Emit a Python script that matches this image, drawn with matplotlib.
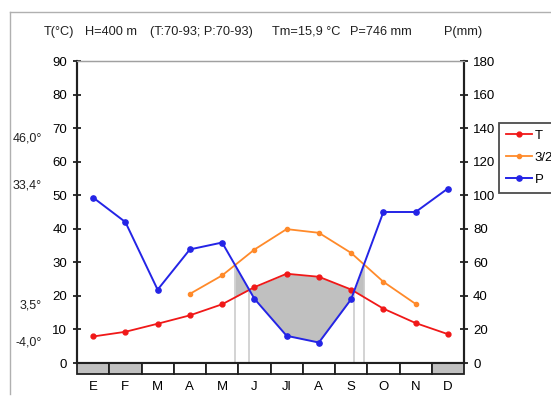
import numpy as np
import matplotlib
matplotlib.use("Agg")
import matplotlib.pyplot as plt
from matplotlib.patches import Rectangle
from matplotlib.lines import Line2D
from matplotlib import font_manager

# ---------------- data ----------------
months = ["E", "F", "M", "A", "M", "J", "Jl", "A", "S", "O", "N", "D"]
T = [7.9, 9.3, 11.7, 14.2, 17.5, 22.6, 26.6, 25.7, 21.9, 16.2, 11.9, 8.6]
T32_months = [3, 4, 5, 6, 7, 8, 9, 10]
T32 = [20.6, 26.1, 33.8, 39.9, 38.8, 32.8, 24.2, 17.6]
P = [98.6, 84.0, 43.7, 67.7, 71.8, 38.3, 16.2, 12.2, 38.0, 90.0, 90.0, 104.0]
frost = [1, 1, 0, 0, 0, 0, 0, 0, 0, 0, 0, 1]
left_ticks = list(range(0, 91, 10))
right_ticks = list(range(0, 181, 20))
side_notes = ["46,0°", "33,4°", "3,5°", "-4,0°"]
side_note_ypos = [67.0, 53.0, 17.0, 6.0]
header = ["T(°C)", "H=400 m", "(T:70-93; P:70-93)", "Tm=15,9 °C", "P=746 mm", "P(mm)"]

# ---------------- style ----------------
names = {f.name for f in font_manager.fontManager.ttflist}
fam = ["Liberation Sans Narrow", "Liberation Sans", "DejaVu Sans"]
fam = [f for f in fam if f in names] or ["DejaVu Sans"]
plt.rcParams["font.family"] = fam
FS = 9.5
RED = "#f01818"
ORANGE = "#ff8a2a"
BLUE = "#2424e6"
GREY = "#c0c0c0"
DARK = "#202020"

W, H = 551, 396
fig = plt.figure(figsize=(W / 100, H / 100), dpi=100)

def fx(px):
    return px / W

def fy(py):
    return 1 - py / H

ax_l, ax_r, ax_t, ax_b = 77, 464, 61, 363
ax = fig.add_axes([fx(ax_l), fy(ax_b), fx(ax_r - ax_l), (ax_b - ax_t) / H])
ax2 = ax.twinx()

x = np.arange(12)
ax.set_xlim(-0.5, 11.5)
ax.set_ylim(0, 90)
ax2.set_ylim(0, 180)

# fill between P and T where 3/2 T is above P
xf = np.linspace(0, 11, 2201)
Tf = np.interp(xf, x, T)
Pf = np.interp(xf, x, np.array(P) / 2.0)
Of = np.interp(xf, T32_months, T32, left=np.nan, right=np.nan)
mask = np.nan_to_num(Of, nan=-1) >= Pf
ax.fill_between(xf, Tf, Pf, where=mask, color=GREY, lw=0, zorder=1)

# vertical lines at crossings
def crossings(a, b):
    d = a - b
    out = []
    for i in range(len(d) - 1):
        if np.isfinite(d[i]) and np.isfinite(d[i + 1]) and d[i] * d[i + 1] < 0:
            t = d[i] / (d[i] - d[i + 1])
            xc = xf[i] + t * (xf[i + 1] - xf[i])
            yc = a[i] + t * (a[i + 1] - a[i])
            out.append((xc, yc))
    return out

for xc, yc in crossings(Of, Pf) + crossings(Tf, Pf):
    ax.plot([xc, xc], [0, yc], color="#c8c8c8", lw=1.1, zorder=1.5)

lT, = ax.plot(x, T, color=RED, lw=1.3, marker="o", ms=3.5, zorder=3)
lO, = ax.plot(T32_months, T32, color=ORANGE, lw=1.3, marker="o", ms=3.0, zorder=3)
lP, = ax2.plot(x, P, color=BLUE, lw=1.4, marker="o", ms=3.8, zorder=3)

# spines
for a in (ax, ax2):
    a.spines["top"].set_color("#a0a0a0")
    a.spines["top"].set_linewidth(0.9)
    for s in ("left", "right", "bottom"):
        a.spines[s].set_color(DARK)
        a.spines[s].set_linewidth(1.5)

ax.set_yticks(left_ticks)
ax.set_yticklabels([str(v) for v in left_ticks], fontsize=FS)
ax2.set_yticks(right_ticks)
ax2.set_yticklabels([str(v) for v in right_ticks], fontsize=FS)
ax.tick_params(axis="y", direction="inout", length=6, width=1.3, color=DARK, pad=4)
ax2.tick_params(axis="y", direction="inout", length=6, width=1.3, color=DARK, pad=3.5)

ax.set_xticks(x)
ax.set_xticklabels(months, fontsize=FS)
ax.tick_params(axis="x", length=0, pad=13)

# frost band below axis
band_h = 3.2
for i in range(12):
    ax.add_patch(Rectangle((i - 0.5, -band_h), 1, band_h,
                           facecolor=GREY if frost[i] else "white",
                           edgecolor=DARK, lw=1.3, clip_on=False, zorder=4))

# side notes (left)
for txt, ypos in zip(side_notes, side_note_ypos):
    fig.text(fx(42), fy(ax_b - ypos * (ax_b - ax_t) / 90), txt,
             ha="right", va="center", fontsize=FS - 0.5, color=DARK)

# header
hx = [59, 111, 201, 306, 381, 463]
for txt, px in zip(header, hx):
    fig.text(fx(px), fy(32), txt, ha="center", va="center", fontsize=FS - 0.3, color=DARK)

# outer frame
fig.add_artist(Line2D([fx(10), fx(10)], [fy(12), fy(394)], color="#b0b0b0", lw=1.0))
fig.add_artist(Line2D([fx(10), fx(551)], [fy(12), fy(12)], color="#b0b0b0", lw=1.0))

# legend
leg = fig.legend([lT, lO, lP], ["T", "3/2", "P"], loc="upper left",
                 bbox_to_anchor=(fx(499), fy(123)), frameon=True, fancybox=False,
                 edgecolor=DARK, fontsize=FS, handlelength=2.0, handletextpad=0.2,
                 borderpad=0.5, borderaxespad=0, labelspacing=0.75)
leg.get_frame().set_linewidth(1.3)

fig.savefig("out.png", dpi=100)
